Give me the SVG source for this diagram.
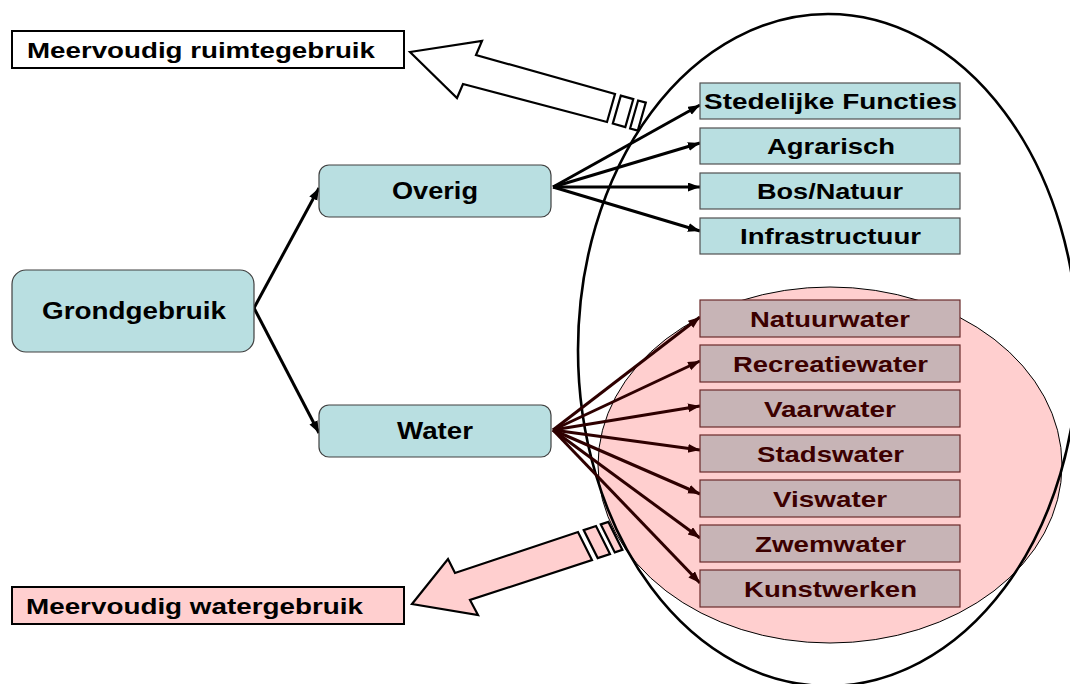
<svg xmlns="http://www.w3.org/2000/svg" width="1070" height="684" viewBox="0 0 1070 684">
<defs>
<style>
.t{font-family:"Liberation Sans",Arial,sans-serif;font-weight:bold;font-size:22px;fill:#000}
.tw{font-family:"Liberation Sans",Arial,sans-serif;font-weight:bold;font-size:22px;fill:#3c0000}
.tl{font-family:"Liberation Sans",Arial,sans-serif;font-weight:bold;font-size:23px;fill:#000}
.rb{fill:#b9dfe1;stroke:#404040;stroke-width:1.2}
.sb{fill:#b9dfe1;stroke:#505050;stroke-width:1.2}
.wb{fill:#c7b4b6;stroke:#6a2a2a;stroke-width:1.2}
.c{stroke:#000;stroke-width:3;fill:none;marker-end:url(#ah)}
.cw{stroke:#2e0000;stroke-width:3;fill:none;marker-end:url(#ahw)}
.ha{stroke:#000;stroke-width:2.2;stroke-linejoin:miter}
</style>
<marker id="ah" markerUnits="userSpaceOnUse" markerWidth="13" markerHeight="10" refX="12" refY="4.5" orient="auto"><path d="M0,0 L12,4.5 L0,9 z" fill="#000"/></marker>
<marker id="ahw" markerUnits="userSpaceOnUse" markerWidth="13" markerHeight="10" refX="12" refY="4.5" orient="auto"><path d="M0,0 L12,4.5 L0,9 z" fill="#2e0000"/></marker>
</defs>
<rect width="1070" height="684" fill="#fff"/>

<g id="water-ellipse">
<ellipse cx="830" cy="465" rx="232" ry="178" fill="#ffcfcf" stroke="#000" stroke-width="1"/>
</g>

<g id="arrow-ruimte">
<polygon class="ha" fill="#fff" points="410,52 482,41 476,55 615,94 607,122 463,84 457,98"/>
<polygon class="ha" fill="#fff" points="620.8,95.6 633.3,99.1 625.3,127.1 612.8,123.6"/>
<polygon class="ha" fill="#fff" points="638.1,100.5 645.8,102.6 637.8,130.6 630.1,128.5"/>
</g>
<g id="arrow-water">
<polygon class="ha" fill="#ffcfcf" points="412,604 448,559 455,573 578,532 592,560 470,600 478,615"/>
<polygon class="ha" fill="#ffcfcf" points="583.7,530.1 596,526 610,554 597.7,558.1"/>
<polygon class="ha" fill="#ffcfcf" points="600.8,524.4 608.4,521.9 622.4,549.9 614.8,552.4"/>
</g>

<g id="land-ellipse">
<ellipse cx="828" cy="350" rx="250" ry="336" fill="none" stroke="#000" stroke-width="2.6"/>
</g>

<g id="connectors">
<line class="c" x1="254" y1="308" x2="319" y2="188"/>
<line class="c" x1="254" y1="308" x2="319" y2="433"/>
<line class="c" x1="553" y1="187" x2="700" y2="105"/>
<line class="c" x1="553" y1="187" x2="700" y2="143"/>
<line class="c" x1="553" y1="187" x2="700" y2="187"/>
<line class="c" x1="553" y1="187" x2="700" y2="231"/>
<line class="cw" x1="553" y1="430" x2="700" y2="317"/>
<line class="cw" x1="553" y1="430" x2="700" y2="361"/>
<line class="cw" x1="553" y1="430" x2="700" y2="406"/>
<line class="cw" x1="553" y1="430" x2="700" y2="450"/>
<line class="cw" x1="553" y1="430" x2="700" y2="494"/>
<line class="cw" x1="553" y1="430" x2="700" y2="538"/>
<line class="cw" x1="553" y1="430" x2="700" y2="583"/>
</g>

<g id="meervoudig-ruimtegebruik">
<rect x="12" y="31" width="392" height="37" fill="#fff" stroke="#000" stroke-width="2"/>
<text class="t" x="27" y="57.5" textLength="348" lengthAdjust="spacingAndGlyphs">Meervoudig ruimtegebruik</text>
</g>
<g id="meervoudig-watergebruik">
<rect x="12" y="587" width="392" height="37" fill="#ffcfcf" stroke="#000" stroke-width="2"/>
<text class="t" x="26" y="613.5" textLength="337" lengthAdjust="spacingAndGlyphs">Meervoudig watergebruik</text>
</g>

<g id="grondgebruik">
<rect class="rb" x="12" y="270" width="242" height="82" rx="14"/>
<text class="tl" x="42" y="319" textLength="184" lengthAdjust="spacingAndGlyphs">Grondgebruik</text>
</g>
<g id="overig">
<rect class="rb" x="319" y="165" width="232" height="52" rx="10"/>
<text class="tl" x="392" y="199" textLength="86" lengthAdjust="spacingAndGlyphs">Overig</text>
</g>
<g id="water">
<rect class="rb" x="319" y="405" width="232" height="52" rx="10"/>
<text class="tl" x="397" y="439" textLength="76" lengthAdjust="spacingAndGlyphs">Water</text>
</g>

<g id="stedelijke-functies">
<rect class="sb" x="700" y="83" width="260" height="36"/>
<text class="t" x="704" y="109" textLength="253" lengthAdjust="spacingAndGlyphs">Stedelijke Functies</text>
</g>
<g id="agrarisch">
<rect class="sb" x="700" y="128" width="260" height="36"/>
<text class="t" x="767" y="154" textLength="128" lengthAdjust="spacingAndGlyphs">Agrarisch</text>
</g>
<g id="bos-natuur">
<rect class="sb" x="700" y="173" width="260" height="36"/>
<text class="t" x="757" y="199" textLength="146" lengthAdjust="spacingAndGlyphs">Bos/Natuur</text>
</g>
<g id="infrastructuur">
<rect class="sb" x="700" y="218" width="260" height="36"/>
<text class="t" x="740" y="244" textLength="181" lengthAdjust="spacingAndGlyphs">Infrastructuur</text>
</g>

<g id="natuurwater">
<rect class="wb" x="700" y="300" width="260" height="37"/>
<text class="tw" x="750" y="327" textLength="160" lengthAdjust="spacingAndGlyphs">Natuurwater</text>
</g>
<g id="recreatiewater">
<rect class="wb" x="700" y="345" width="260" height="37"/>
<text class="tw" x="733" y="372" textLength="195" lengthAdjust="spacingAndGlyphs">Recreatiewater</text>
</g>
<g id="vaarwater">
<rect class="wb" x="700" y="390" width="260" height="37"/>
<text class="tw" x="764" y="417" textLength="132" lengthAdjust="spacingAndGlyphs">Vaarwater</text>
</g>
<g id="stadswater">
<rect class="wb" x="700" y="435" width="260" height="37"/>
<text class="tw" x="757" y="462" textLength="147" lengthAdjust="spacingAndGlyphs">Stadswater</text>
</g>
<g id="viswater">
<rect class="wb" x="700" y="480" width="260" height="37"/>
<text class="tw" x="773" y="507" textLength="114" lengthAdjust="spacingAndGlyphs">Viswater</text>
</g>
<g id="zwemwater">
<rect class="wb" x="700" y="525" width="260" height="37"/>
<text class="tw" x="755" y="552" textLength="151" lengthAdjust="spacingAndGlyphs">Zwemwater</text>
</g>
<g id="kunstwerken">
<rect class="wb" x="700" y="570" width="260" height="37"/>
<text class="tw" x="744" y="597" textLength="173" lengthAdjust="spacingAndGlyphs">Kunstwerken</text>
</g>
</svg>
